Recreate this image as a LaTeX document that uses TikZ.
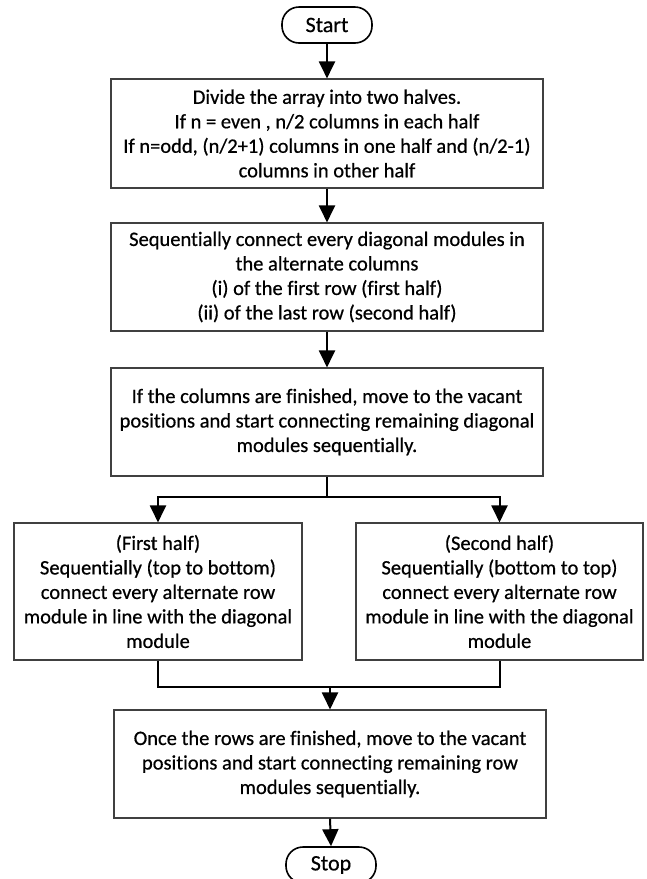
\documentclass[tikz,border=0pt]{standalone}
\usepackage{fontspec}
\setmainfont{Carlito}
\newfontfamily\chartfont{Carlito}[FakeBold=0.6, Ligatures=NoCommon]
\usetikzlibrary{arrows.meta}
\tikzset{
  procbox/.style={draw=black!75, line width=1.1pt, align=center, inner sep=0pt,
    font=\chartfont\fontsize{20.5}{24.5}\selectfont},
  termbox/.style={draw, line width=1.6pt, rounded corners=17pt,
    minimum width=90pt, minimum height=36pt, font=\chartfont\fontsize{22}{24}\selectfont},
  flow/.style={line width=2pt, -{Triangle[length=17pt,width=16pt]}},
  wire/.style={line width=2pt}
}

\begin{document}
\begin{tikzpicture}[x=1pt, y=-1pt]
  \useasboundingbox (0,0) rectangle (646,879);
  % start and the column steps
  \node[termbox] (start) at (327,25) {Start};
  \node[procbox, minimum width=432pt, minimum height=109pt] (halves) at (327,133.5)
    {Divide the array into two halves.\\ If n = even , n/2 columns in each half\\
     If n=odd, (n/2+1) columns in one half and (n/2-1)\\ columns in other half};
  \node[procbox, minimum width=432pt, minimum height=108pt] (diag) at (327,277)
    {Sequentially connect every diagonal modules in\\ the alternate columns\\
     (i) of the first row (first half)\\ (ii) of the last row (second half)};
  \node[procbox, minimum width=432pt, minimum height=108pt] (vacdiag) at (327,422)
    {If the columns are finished, move to the vacant\\
     positions and start connecting remaining diagonal\\ modules sequentially.};
  % the two halves
  \node[procbox, minimum width=288pt, minimum height=137pt] (firsthalf) at (158,591.5)
    {(First half)\\ Sequentially (top to bottom)\\ connect every alternate row\\
     module in line with the diagonal\\ module};
  \node[procbox, minimum width=287pt, minimum height=137pt] (secondhalf) at (499.5,591.5)
    {(Second half)\\ Sequentially (bottom to top)\\ connect every alternate row\\
     module in line with the diagonal\\ module};
  % rows and stop
  \node[procbox, minimum width=432pt, minimum height=108pt] (vacrow) at (330,764)
    {Once the rows are finished, move to the vacant\\
     positions and start connecting remaining row\\ modules sequentially.};
  \node[termbox] (stop) at (331,865) {Stop};
  % connectors
  \coordinate (split) at (327,496.5);
  \coordinate (join) at (330,687);
  \draw[flow] (start) -- (halves);
  \draw[flow] (halves) -- (diag);
  \draw[flow] (diag) -- (vacdiag);
  \draw[wire] (vacdiag.south) -- (split);
  \draw[flow] (split) -| (firsthalf.north);
  \draw[flow] (split) -| (secondhalf.north);
  \draw[wire] (firsthalf.south) |- (join);
  \draw[wire] (secondhalf.south) |- (join);
  \draw[flow] (join) -- (vacrow.north);
  \draw[flow] (vacrow.south) -- (stop.north);
\end{tikzpicture}
\end{document}
